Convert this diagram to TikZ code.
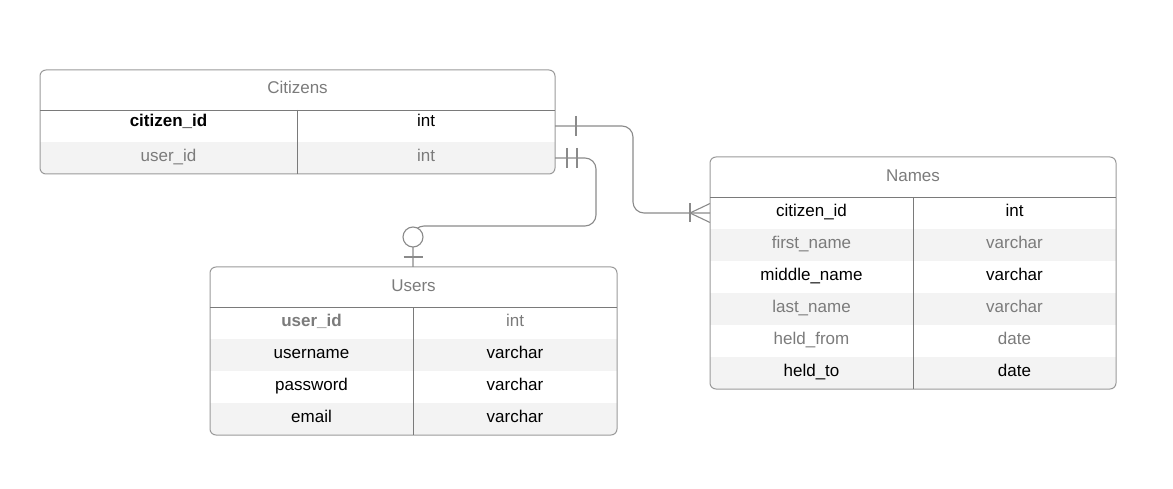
\documentclass[tikz,border=0pt]{standalone}
\usepackage{fontspec}
\setmainfont{Liberation Sans}
\definecolor{framec}{HTML}{9A9A9A}
\definecolor{sepc}{HTML}{7A7A7A}
\definecolor{rowfill}{HTML}{F3F3F3}
\definecolor{txtgray}{HTML}{7B7B7B}
\definecolor{linkc}{HTML}{8A8A8A}
\begin{document}
\begin{tikzpicture}[x=1pt,y=-1pt,
  tbl/.style={draw=framec, line width=1pt, rounded corners=6pt, inner sep=0pt, outer sep=0pt, anchor=north west},
  sep/.style={draw=sepc, line width=0.9pt},
  cell/.style={anchor=base, inner sep=0pt, font=\fontsize{17}{20}\selectfont, text=black},
  gcell/.style={cell, text=txtgray},
  bcell/.style={cell, font=\fontsize{17}{20}\selectfont\bfseries},
  conn/.style={draw=linkc, line width=1.1pt, rounded corners=11pt},
  tickline/.style={draw=linkc, line width=1.1pt}
]
\useasboundingbox (0,0) rectangle (1173,489);

% ---------- Citizens ----------
\begin{scope}
  \clip[rounded corners=6pt] (40,70) rectangle (555,174);
  \fill[rowfill] (40,142) rectangle (555,174);
\end{scope}
\node[tbl, minimum width=515pt, minimum height=104pt] (cit) at (40,70) {};
\draw[sep] (40,110) -- (555,110);
\draw[sep] (297,110) -- (297,174);
\node[gcell] (cit-h) at (297.5,93.5) {Citizens};
\node[bcell] (cit-n1) at (168.5,127) {citizen\_id};
\node[cell] (cit-t1) at (426,127) {int};
\node[gcell] (cit-n2) at (168.5,161.7) {user\_id};
\node[gcell] (cit-t2) at (426,161.7) {int};
\coordinate (cit-r1) at (297.5,126);
\coordinate (cit-r2) at (297.5,158);

% ---------- Users ----------
\begin{scope}
  \clip[rounded corners=6pt] (210,267) rectangle (617,435);
  \fill[rowfill] (210,339) rectangle (617,371);
  \fill[rowfill] (210,403) rectangle (617,435);
\end{scope}
\node[tbl, minimum width=407pt, minimum height=168pt] (usr) at (210,267) {};
\draw[sep] (210,307) -- (617,307);
\draw[sep] (413,307) -- (413,435);
\node[gcell] (usr-h) at (413.5,291.7) {Users};
\node[bcell, text=txtgray] (usr-n1) at (311.5,326.7) {user\_id};
\node[gcell] (usr-t1) at (515,326.7) {int};
\node[cell] (usr-n2) at (311.5,358.7) {username};
\node[cell] (usr-t2) at (515,358.7) {varchar};
\node[cell] (usr-n3) at (311.5,390.7) {password};
\node[cell] (usr-t3) at (515,390.7) {varchar};
\node[cell] (usr-n4) at (311.5,422.7) {email};
\node[cell] (usr-t4) at (515,422.7) {varchar};

% ---------- Names ----------
\begin{scope}
  \clip[rounded corners=6pt] (710,157) rectangle (1116,389);
  \fill[rowfill] (710,229) rectangle (1116,261);
  \fill[rowfill] (710,293) rectangle (1116,325);
  \fill[rowfill] (710,357) rectangle (1116,389);
\end{scope}
\node[tbl, minimum width=406pt, minimum height=232pt] (nam) at (710,157) {};
\draw[sep] (710,197) -- (1116,197);
\draw[sep] (913,197) -- (913,389);
\node[gcell] (nam-h) at (913,181.7) {Names};
\node[cell] (nam-n1) at (811.5,216.7) {citizen\_id};
\node[cell] (nam-t1) at (1014.5,216.7) {int};
\node[gcell] (nam-n2) at (811.5,248.7) {first\_name};
\node[gcell] (nam-t2) at (1014.5,248.7) {varchar};
\node[cell] (nam-n3) at (811.5,280.7) {middle\_name};
\node[cell] (nam-t3) at (1014.5,280.7) {varchar};
\node[gcell] (nam-n4) at (811.5,312.7) {last\_name};
\node[gcell] (nam-t4) at (1014.5,312.7) {varchar};
\node[gcell] (nam-n5) at (811.5,344.7) {held\_from};
\node[gcell] (nam-t5) at (1014.5,344.7) {date};
\node[cell] (nam-n6) at (811.5,376.7) {held\_to};
\node[cell] (nam-t6) at (1014.5,376.7) {date};
\coordinate (nam-r1) at (913,213);

% ---------- Connector Citizens -> Names (one to many) ----------
\draw[conn] (cit.east |- cit-r1) -| (633,213) -- (nam.west |- nam-r1);
\draw[tickline] (576,116) -- (576,136);
\draw[tickline] (690,203.5) -- (690,222.5);
\draw[tickline] (710,203.5) -- (690,213) -- (710,222.5);

% ---------- Connector Citizens -> Users (one to zero-or-one) ----------
\coordinate (usr-top) at (413,267);
\draw[conn] (cit.east |- cit-r2) -| (596,226) -| (usr.north -| usr-top);
\draw[tickline] (567,148) -- (567,168);
\draw[tickline] (577,148) -- (577,168);
\node[circle, draw=linkc, fill=white, line width=1.1pt, minimum size=20pt, inner sep=0pt] (usr-opt) at (413,237) {};
\draw[tickline] (403.5,257) -- (422.5,257);
\end{tikzpicture}
\end{document}
